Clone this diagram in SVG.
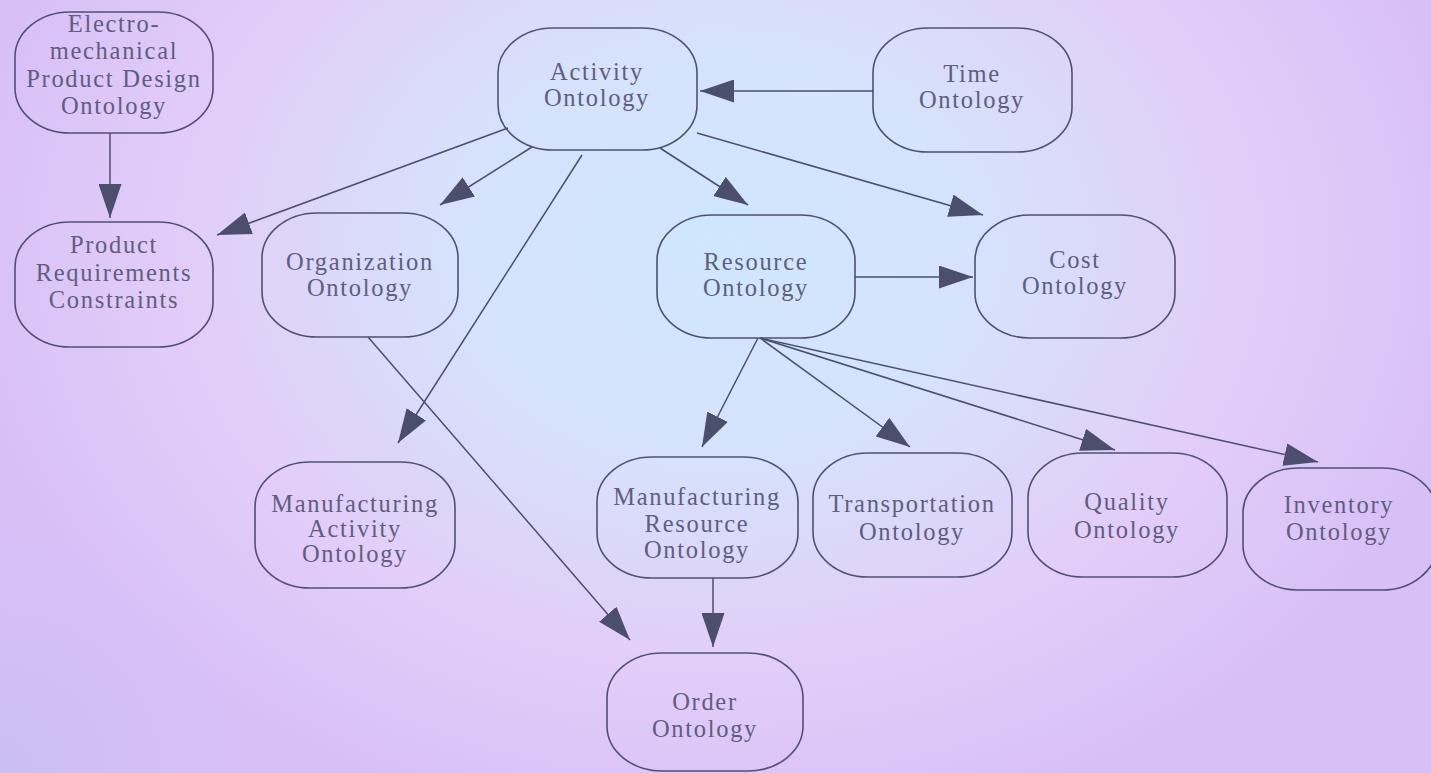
<svg xmlns="http://www.w3.org/2000/svg" width="1431" height="773" viewBox="0 0 1431 773">
  <defs>
    <radialGradient id="bg" gradientUnits="userSpaceOnUse" cx="720" cy="250" r="760" gradientTransform="translate(720 250) scale(1 0.78) translate(-720 -250)">
      <stop offset="0" stop-color="#cfe7fc"/>
      <stop offset="0.35" stop-color="#d6e2fb"/>
      <stop offset="0.7" stop-color="#e2cdf9"/>
      <stop offset="1" stop-color="#d8c0f7"/>
    </radialGradient>
    <radialGradient id="corner" gradientUnits="userSpaceOnUse" cx="0" cy="773" r="240">
      <stop offset="0" stop-color="#bdbcf3" stop-opacity="0.5"/>
      <stop offset="1" stop-color="#bdbcf3" stop-opacity="0"/>
    </radialGradient>
    <marker id="arrow" viewBox="0 0 34 23" refX="34" refY="11.5" markerWidth="34" markerHeight="23" markerUnits="userSpaceOnUse" orient="auto">
      <path d="M0,0 L34,11.5 L0,23 Z" fill="#4c4e6e"/>
    </marker>
    <style>
      .node rect { fill: none; stroke: #4f5076; stroke-width: 1.6; }
      .node text { font-family: "Liberation Serif", "Times New Roman", serif; font-size: 24.5px; letter-spacing: 1.7px; fill: #5e5e7e; text-anchor: middle; }
      #edges path { fill: none; stroke: #4c4e6e; stroke-width: 1.5; marker-end: url(#arrow); }
    </style>
  </defs>

  <!-- backdrop -->
  <rect x="0" y="0" width="1431" height="773" fill="url(#bg)"/>
  <rect x="0" y="0" width="1431" height="773" fill="url(#corner)"/>

  <!-- connectors -->
  <g id="edges">
    <path d="M110,133 L110,218"/>
    <path d="M873,91 L700,91"/>
    <path d="M508,128 L217,235"/>
    <path d="M532,147 L440,205"/>
    <path d="M582,155 L398,443"/>
    <path d="M660,148 L748,205"/>
    <path d="M697,133 L983,215"/>
    <path d="M855,277 L973,277"/>
    <path d="M368,337 L630,640"/>
    <path d="M758,338 L702,447"/>
    <path d="M760,338 L910,447"/>
    <path d="M760,338 L1115,450"/>
    <path d="M760,338 L1318,462"/>
    <path d="M713,578 L713,647"/>
  </g>

  <!-- nodes -->
  <g id="electromechanical" class="node">
    <rect x="15" y="12" width="198" height="121" rx="55" ry="45"/>
    <text x="114" y="32">Electro-</text>
    <text x="114" y="59">mechanical</text>
    <text x="114" y="87">Product Design</text>
    <text x="114" y="114">Ontology</text>
  </g>
  <g id="activity" class="node">
    <rect x="498" y="28" width="199" height="122" rx="55" ry="45"/>
    <text x="597" y="80">Activity</text>
    <text x="597" y="106">Ontology</text>
  </g>
  <g id="time" class="node">
    <rect x="873" y="28" width="199" height="124" rx="55" ry="45"/>
    <text x="972" y="82">Time</text>
    <text x="972" y="108">Ontology</text>
  </g>
  <g id="product-requirements" class="node">
    <rect x="15" y="222" width="198" height="125" rx="55" ry="45"/>
    <text x="114" y="253">Product</text>
    <text x="114" y="281">Requirements</text>
    <text x="114" y="308">Constraints</text>
  </g>
  <g id="organization" class="node">
    <rect x="262" y="213" width="196" height="124" rx="55" ry="45"/>
    <text x="360" y="270">Organization</text>
    <text x="360" y="296">Ontology</text>
  </g>
  <g id="resource" class="node">
    <rect x="657" y="215" width="198" height="123" rx="55" ry="45"/>
    <text x="756" y="270">Resource</text>
    <text x="756" y="296">Ontology</text>
  </g>
  <g id="cost" class="node">
    <rect x="975" y="215" width="200" height="123" rx="55" ry="45"/>
    <text x="1075" y="268">Cost</text>
    <text x="1075" y="294">Ontology</text>
  </g>
  <g id="manufacturing-activity" class="node">
    <rect x="255" y="462" width="200" height="126" rx="55" ry="45"/>
    <text x="355" y="512">Manufacturing</text>
    <text x="355" y="537">Activity</text>
    <text x="355" y="562">Ontology</text>
  </g>
  <g id="manufacturing-resource" class="node">
    <rect x="597" y="457" width="201" height="121" rx="55" ry="45"/>
    <text x="697" y="505">Manufacturing</text>
    <text x="697" y="532">Resource</text>
    <text x="697" y="558">Ontology</text>
  </g>
  <g id="transportation" class="node">
    <rect x="813" y="453" width="199" height="124" rx="55" ry="45"/>
    <text x="912" y="512">Transportation</text>
    <text x="912" y="540">Ontology</text>
  </g>
  <g id="quality" class="node">
    <rect x="1028" y="453" width="199" height="124" rx="55" ry="45"/>
    <text x="1127" y="510">Quality</text>
    <text x="1127" y="538">Ontology</text>
  </g>
  <g id="inventory" class="node">
    <rect x="1243" y="468" width="194" height="122" rx="55" ry="45"/>
    <text x="1339" y="513">Inventory</text>
    <text x="1339" y="540">Ontology</text>
  </g>
  <g id="order" class="node">
    <rect x="607" y="653" width="196" height="118" rx="55" ry="45"/>
    <text x="705" y="710">Order</text>
    <text x="705" y="737">Ontology</text>
  </g>
</svg>
